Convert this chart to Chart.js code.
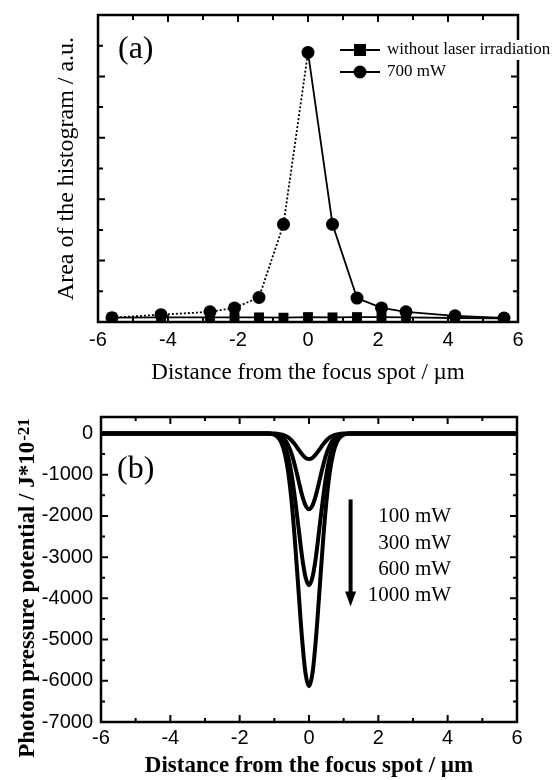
<!DOCTYPE html>
<html>
<head>
<meta charset="utf-8">
<title>Histogram area and photon pressure potential</title>
<script src="https://cdn.jsdelivr.net/npm/chart.js@4.4.0/dist/chart.umd.min.js"></script>
<style>
  html, body { margin: 0; padding: 0; background: #fff; }
  .panel { position: absolute; left: 0; width: 558px; height: 390px; }
  #panelA { top: 0; }
  #panelB { top: 390px; }
</style>
</head>
<body>
<div class="panel" id="panelA"><canvas id="chartA" width="558" height="390"></canvas></div>
<div class="panel" id="panelB"><canvas id="chartB" width="558" height="390"></canvas></div>
<script>
// ---- (a) area of the histogram ----
var distA = [-5.6, -4.2, -2.8, -2.1, -1.4, -0.7, 0, 0.7, 1.4, 2.1, 2.8, 4.2, 5.6];
var areaNoLaser = [0.14, 0.15, 0.15, 0.15, 0.15, 0.14, 0.16, 0.15, 0.16, 0.16, 0.15, 0.13, 0.12];
var area700 = [0.14, 0.24, 0.33, 0.46, 0.80, 3.18, 8.78, 3.18, 0.78, 0.46, 0.33, 0.20, 0.13];
var seriesNamesA = ["without laser irradiation", "700 mW"];

var xMajorTicks = [-6, -4, -2, 0, 2, 4, 6];
var xMinorTicks = [-5, -3, -1, 1, 3, 5];
var yMajorTicksA = [2, 4, 6, 8];
var yMinorTicksA = [1, 3, 5, 7, 9];

// ---- (b) photon pressure potential ----
var distB = [-6, -1.2, -1, -0.9, -0.8, -0.7, -0.6, -0.5, -0.4, -0.3, -0.2, -0.1, 0,
             0.1, 0.2, 0.3, 0.4, 0.5, 0.6, 0.7, 0.8, 0.9, 1, 1.2, 6];
var pot100 = [0, 0, -3, -9, -22, -50, -95, -170, -270, -390, -505, -590, -620,
              -590, -505, -390, -270, -170, -95, -50, -22, -9, -3, 0, 0];
var pot300 = [0, 0, -10, -28, -65, -145, -285, -500, -800, -1150, -1495, -1745, -1840,
              -1745, -1495, -1150, -800, -500, -285, -145, -65, -28, -10, 0, 0];
var pot600 = [0, 0, -20, -55, -130, -290, -570, -1000, -1600, -2300, -2990, -3490, -3680,
              -3490, -2990, -2300, -1600, -1000, -570, -290, -130, -55, -20, 0, 0];
var pot1000 = [0, 0, -30, -90, -220, -480, -940, -1670, -2670, -3840, -4980, -5820, -6130,
               -5820, -4980, -3840, -2670, -1670, -940, -480, -220, -90, -30, 0, 0];
var powerLabels = ["100 mW", "300 mW", "600 mW", "1000 mW"];

var yLabelTicksB = [-7000, -6000, -5000, -4000, -3000, -2000, -1000, 0];
var yMajorTicksB = [-6000, -5000, -4000, -3000, -2000, -1000, 0];
var yMinorTicksB = [-6500, -5500, -4500, -3500, -2500, -1500, -500];

// annotation anchor (data units) for the power arrow and labels
var arrowX = 1.2, arrowFrom = -1600, arrowTo = -4200;
var powerLabelX = 4.1;
var powerLabelY = [-2020, -2660, -3300, -3940];

var SERIF = '"Liberation Serif", "Times New Roman", serif';
var SANS = '"Liberation Sans", Arial, sans-serif';

Chart.defaults.color = "#000";
Chart.defaults.font.family = SANS;

function zip(xs, ys) {
  var out = [];
  for (var i = 0; i < xs.length; i++) out.push({ x: xs[i], y: ys[i] });
  return out;
}

function plainLabel(v) { return String(v); }

// box + inward tick marks on all four sides
function drawFrame(chart, t) {
  var ctx = chart.ctx, a = chart.chartArea;
  var xs = chart.scales.x, ys = chart.scales.y;
  var i, p;
  ctx.save();
  ctx.strokeStyle = "#000";
  ctx.lineWidth = 2;
  ctx.beginPath();
  function xt(list, len) {
    for (i = 0; i < list.length; i++) {
      p = xs.getPixelForValue(list[i]);
      ctx.moveTo(p, a.bottom); ctx.lineTo(p, a.bottom - len);
      ctx.moveTo(p, a.top); ctx.lineTo(p, a.top + len);
    }
  }
  function yt(list, len) {
    for (i = 0; i < list.length; i++) {
      p = ys.getPixelForValue(list[i]);
      ctx.moveTo(a.left, p); ctx.lineTo(a.left + len, p);
      ctx.moveTo(a.right, p); ctx.lineTo(a.right - len, p);
    }
  }
  xt(t.xMajor, t.majorLen); xt(t.xMinor, t.minorLen);
  yt(t.yMajor, t.majorLen); yt(t.yMinor, t.minorLen);
  ctx.stroke();
  ctx.lineWidth = 2.5;
  ctx.strokeRect(a.left, a.top, a.right - a.left, a.bottom - a.top);
  ctx.restore();
}

var frameA = {
  id: "frameA",
  afterDraw: function (chart) {
    drawFrame(chart, { xMajor: xMajorTicks, xMinor: xMinorTicks, yMajor: yMajorTicksA, yMinor: yMinorTicksA, majorLen: 7, minorLen: 5 });
    var ctx = chart.ctx, a = chart.chartArea;
    ctx.save();
    ctx.fillStyle = "#000";
    ctx.font = "32px " + SERIF;
    ctx.textBaseline = "middle";
    ctx.fillText("(a)", a.left + 20, a.top + 35);

    // legend: line - marker - line, then label
    ctx.font = "17px " + SERIF;
    var ds = chart.data.datasets;
    for (var i = 0; i < ds.length; i++) {
      var y = a.top + 35 + i * 22;
      var x0 = a.left + 242, x1 = a.left + 282, xm = (x0 + x1) / 2;
      var tx = a.left + 289;
      var w = ctx.measureText(ds[i].label).width;
      ctx.fillStyle = "#fff";
      ctx.fillRect(tx - 2, y - 10, w + 4, 20);
      ctx.fillStyle = "#000";
      ctx.strokeStyle = "#000";
      ctx.lineWidth = 1.8;
      ctx.beginPath(); ctx.moveTo(x0, y); ctx.lineTo(x1, y); ctx.stroke();
      if (ds[i].pointStyle === "rect") {
        ctx.fillRect(xm - 6, y - 6, 12, 12);
      } else {
        ctx.beginPath(); ctx.arc(xm, y, 6.5, 0, Math.PI * 2); ctx.fill();
      }
      ctx.fillText(ds[i].label, tx, y);
    }
    ctx.restore();
  }
};

var frameB = {
  id: "frameB",
  afterDraw: function (chart) {
    drawFrame(chart, { xMajor: xMajorTicks, xMinor: xMinorTicks, yMajor: yMajorTicksB, yMinor: yMinorTicksB, majorLen: 7, minorLen: 4 });
    var ctx = chart.ctx, a = chart.chartArea;
    var xs = chart.scales.x, ys = chart.scales.y;
    ctx.save();
    ctx.fillStyle = "#000";
    ctx.strokeStyle = "#000";
    ctx.font = "32px " + SERIF;
    ctx.textBaseline = "middle";
    ctx.fillText("(b)", a.left + 16, a.top + 53);

    // arrow pointing towards higher power
    var ax = xs.getPixelForValue(arrowX);
    var ay0 = ys.getPixelForValue(arrowFrom), ay1 = ys.getPixelForValue(arrowTo);
    ctx.lineWidth = 4;
    ctx.beginPath(); ctx.moveTo(ax, ay0); ctx.lineTo(ax, ay1 - 12); ctx.stroke();
    ctx.beginPath();
    ctx.moveTo(ax - 5.5, ay1 - 15); ctx.lineTo(ax + 5.5, ay1 - 15); ctx.lineTo(ax, ay1);
    ctx.closePath(); ctx.fill();

    ctx.font = "21px " + SERIF;
    ctx.textAlign = "right";
    var lx = xs.getPixelForValue(powerLabelX);
    for (var i = 0; i < powerLabels.length; i++) {
      ctx.fillText(powerLabels[i], lx, ys.getPixelForValue(powerLabelY[i]));
    }

    // rotated y title with superscript exponent
    var main = "Photon pressure potential / J*10", sup = "-21";
    ctx.textAlign = "left";
    ctx.textBaseline = "alphabetic";
    ctx.font = "bold 23px " + SERIF;
    var wm = ctx.measureText(main).width;
    ctx.font = "bold 17px " + SERIF;
    var ws = ctx.measureText(sup).width;
    var cy = (a.top + a.bottom) / 2 + 19;
    ctx.translate(34, cy);
    ctx.rotate(-Math.PI / 2);
    ctx.font = "bold 23px " + SERIF;
    ctx.fillText(main, -(wm + ws) / 2, 0);
    ctx.font = "bold 17px " + SERIF;
    ctx.fillText(sup, -(wm + ws) / 2 + wm + 1, -5);
    ctx.restore();
  }
};

new Chart(document.getElementById("chartA"), {
  type: "line",
  data: {
    datasets: [{
      label: seriesNamesA[0],
      data: zip(distA, areaNoLaser),
      borderColor: "#000",
      backgroundColor: "#000",
      borderWidth: 1.8,
      pointStyle: "rect",
      pointRadius: 7,
      pointBorderWidth: 0
    }, {
      label: seriesNamesA[1],
      data: zip(distA, area700),
      borderColor: "#000",
      backgroundColor: "#000",
      borderWidth: 1.8,
      pointStyle: "circle",
      pointRadius: 6.5,
      pointBorderWidth: 0,
      segment: {
        borderDash: function (c) { return c.p1.parsed.x <= 0 ? [2, 2] : undefined; }
      }
    }]
  },
  options: {
    responsive: false,
    animation: false,
    layout: { padding: { top: 15, right: 40, left: 0, bottom: 0 } },
    plugins: { legend: { display: false }, tooltip: { enabled: false } },
    scales: {
      x: {
        type: "linear", min: -6, max: 6,
        grid: { display: false, drawTicks: false },
        border: { display: false },
        ticks: { stepSize: 2, padding: 6, font: { size: 20 }, callback: plainLabel },
        title: {
          display: true, text: "Distance from the focus spot / \u00b5m",
          font: { family: SERIF, size: 23 }, padding: { top: 0, bottom: 3 }
        },
        afterFit: function (s) { s.height = 68; }
      },
      y: {
        min: 0, max: 10,
        grid: { display: false, drawTicks: false },
        border: { display: false },
        ticks: { display: false, stepSize: 2 },
        title: {
          display: true, text: "Area of the histogram / a.u.",
          font: { family: SERIF, size: 24 }, padding: { top: 52, bottom: 0 }
        },
        afterFit: function (s) { s.width = 98; }
      }
    }
  },
  plugins: [frameA]
});

var curvesB = [pot100, pot300, pot600, pot1000];
var dsB = [];
for (var k = 0; k < curvesB.length; k++) {
  dsB.push({
    label: powerLabels[k],
    data: zip(distB, curvesB[k]),
    borderColor: "#000",
    borderWidth: 4,
    pointRadius: 0,
    cubicInterpolationMode: "monotone"
  });
}

new Chart(document.getElementById("chartB"), {
  type: "line",
  data: { datasets: dsB },
  options: {
    responsive: false,
    animation: false,
    layout: { padding: { top: 27, right: 41, left: 0, bottom: 0 } },
    plugins: { legend: { display: false }, tooltip: { enabled: false } },
    scales: {
      x: {
        type: "linear", min: -6, max: 6,
        grid: { display: false, drawTicks: false },
        border: { display: false },
        ticks: { stepSize: 2, padding: 4, font: { size: 20 }, callback: plainLabel },
        title: {
          display: true, text: "Distance from the focus spot / \u00b5m",
          font: { family: SERIF, size: 23, weight: "bold" }, padding: { top: 0, bottom: 0 }
        },
        afterFit: function (s) { s.height = 58; }
      },
      y: {
        min: -7000, max: 400,
        grid: { display: false, drawTicks: false },
        border: { display: false },
        ticks: { padding: 8, font: { size: 20 }, callback: plainLabel },
        afterBuildTicks: function (s) {
          s.ticks = yLabelTicksB.map(function (v) { return { value: v }; });
        },
        afterFit: function (s) { s.width = 101; }
      }
    }
  },
  plugins: [frameB]
});
</script>
</body>
</html>
